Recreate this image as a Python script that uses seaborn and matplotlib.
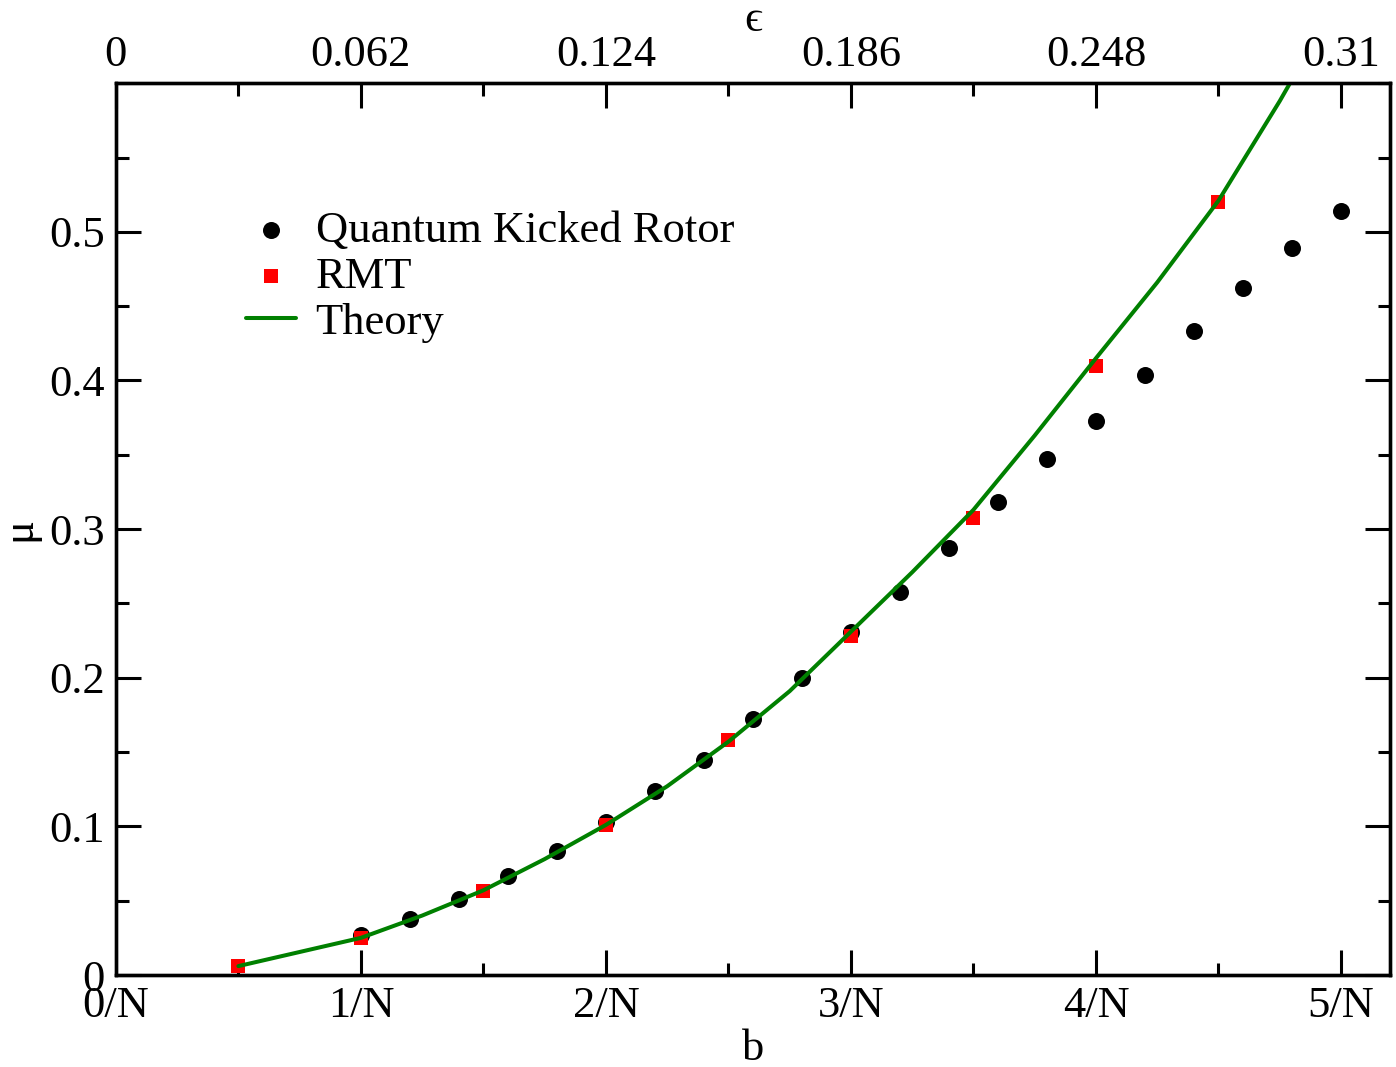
import numpy as np
import pandas as pd
import matplotlib
matplotlib.use("Agg")
import matplotlib.pyplot as plt
import seaborn as sns
from matplotlib.ticker import MultipleLocator

# data (b in units of 1/N)
qkr_b = [1.0, 1.2, 1.4, 1.6, 1.8, 2.0, 2.2, 2.4, 2.6, 2.8, 3.0,
         3.2, 3.4, 3.6, 3.8, 4.0, 4.2, 4.4, 4.6, 4.8, 5.0]
qkr_mu = [0.027, 0.038, 0.051, 0.0665, 0.0835, 0.103, 0.124, 0.145, 0.172, 0.200, 0.231,
          0.258, 0.287, 0.318, 0.347, 0.373, 0.404, 0.433, 0.462, 0.489, 0.514]

rmt_b = [0.5, 1.0, 1.5, 2.0, 2.5, 3.0, 3.5, 4.0, 4.5]
rmt_mu = [0.006, 0.025, 0.0565, 0.101, 0.158, 0.228, 0.3075, 0.41, 0.52]

theory_b = [0.5, 1.0, 1.25, 1.5, 1.75, 2.0, 2.25, 2.5, 2.75, 3.0,
            3.25, 3.5, 3.75, 4.0, 4.25, 4.5, 4.75, 5.0]
theory_mu = [0.006, 0.025, 0.040, 0.057, 0.078, 0.101, 0.127, 0.157, 0.191, 0.231,
             0.271, 0.313, 0.363, 0.415, 0.466, 0.521, 0.588, 0.66]

bottom_ticks = [0, 1, 2, 3, 4, 5]
bottom_labels = ["0/N", "1/N", "2/N", "3/N", "4/N", "5/N"]
top_labels = ["0", "0.062", "0.124", "0.186", "0.248", "0.31"]

sns.set_theme(style="ticks", rc={"text.color": "black", "axes.labelcolor": "black",
                                 "xtick.color": "black", "ytick.color": "black",
                                 "axes.edgecolor": "black"})
plt.rcParams['font.family'] = ['Liberation Serif', 'DejaVu Serif']

fig = plt.figure(figsize=(13.96, 10.67), dpi=100)
ax = fig.add_axes([0.083, 0.0862, 0.9127, 0.8358])

qkr = pd.DataFrame({"b": qkr_b, "mu": qkr_mu})
rmt = pd.DataFrame({"b": rmt_b, "mu": rmt_mu})
theory = pd.DataFrame({"b": theory_b, "mu": theory_mu})

sns.scatterplot(data=qkr, x="b", y="mu", ax=ax, color="black", marker="o", s=150,
                linewidth=0, label="Quantum Kicked Rotor", zorder=3)
sns.scatterplot(data=rmt, x="b", y="mu", ax=ax, color="#ff0000", marker="s", s=110,
                linewidth=0, label="RMT", zorder=4)
sns.lineplot(data=theory, x="b", y="mu", ax=ax, color="#008000", linewidth=2.9,
             label="Theory", zorder=5)

ax.set_xlim(0, 5.2)
ax.set_ylim(0, 0.6)
ax.set_xticks(bottom_ticks)
ax.set_xticklabels(bottom_labels)
ax.xaxis.set_minor_locator(MultipleLocator(0.5))
ax.yaxis.set_minor_locator(MultipleLocator(0.05))
ax.set_yticks([0, 0.1, 0.2, 0.3, 0.4, 0.5])
ax.set_yticklabels(["0", "0.1", "0.2", "0.3", "0.4", "0.5"])

fs = 32
ax.tick_params(which="major", direction="in", length=18, width=2.2, labelsize=fs,
               top=False, right=True, pad=8)
ax.tick_params(which="minor", direction="in", length=9, width=2.2, top=False, right=True)
for sp in ax.spines.values():
    sp.set_linewidth(2.4)

ax.set_xlabel("b", fontsize=fs, labelpad=2)
ax.set_ylabel("μ", fontsize=fs, labelpad=7)

top = ax.twiny()
top.set_xlim(ax.get_xlim())
top.set_xticks(bottom_ticks)
top.set_xticklabels(top_labels)
top.xaxis.set_minor_locator(MultipleLocator(0.5))
top.tick_params(which="major", direction="in", length=18, width=2.2, labelsize=fs, pad=6)
top.tick_params(which="minor", direction="in", length=9, width=2.2)
top.set_xlabel("ϵ", fontsize=fs, labelpad=3)
for sp in top.spines.values():
    sp.set_linewidth(2.4)

ax.legend(loc="upper left", bbox_to_anchor=(0.088, 0.877), frameon=False,
          fontsize=fs, handlelength=1.12, handletextpad=0.45, labelspacing=0.13,
          borderaxespad=0)

fig.savefig("out.png", dpi=100)
